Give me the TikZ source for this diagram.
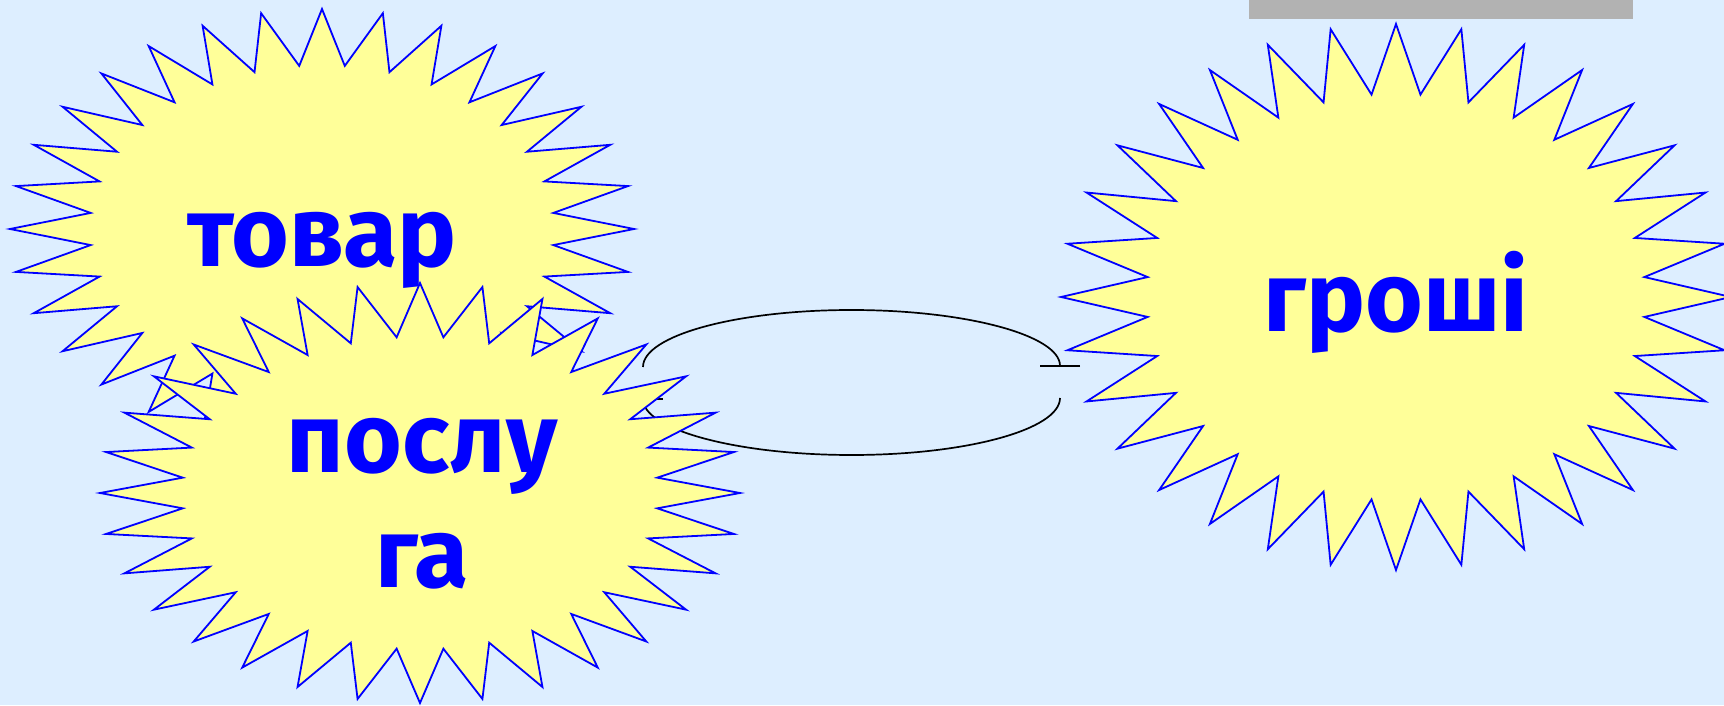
\documentclass[tikz,border=0pt]{standalone}
\usepackage{fontspec}
\setmainfont{Fira Sans}
\usetikzlibrary{
    arrows.meta,  % For the bar tips
    positioning
}
\definecolor{skyback}{HTML}{DDEEFF}
\definecolor{burstyellow}{HTML}{FFFF99}
\definecolor{bargray}{HTML}{B2B2B2}

% 32-point burst: centre x, centre y, x radius, y radius
\newcommand{\burststar}[4]{%
    \draw[burst] plot[samples at={0,...,63}, variable=\k]
        ({#1+(1-0.255*mod(\k,2))*#3*cos(\k*5.625)},
         {#2+(1-0.255*mod(\k,2))*#4*sin(\k*5.625)}) -- cycle;}

\begin{document}
\begin{tikzpicture}[
    x=1pt, y=1pt,
    burst/.style={draw=blue, fill=burstyellow, line width=1.8pt, line join=miter},
    word/.style={text=blue, font=\fontsize{99}{115}\selectfont\bfseries, inner sep=0pt},
    swap/.style={black, line width=1.7pt}
]

    % Background
    \fill[skyback] (0,0) rectangle (1724,705);
    \useasboundingbox (0,0) rectangle (1724,705);
    \fill[bargray] (1249,686) rectangle (1633,705);

    % Exchange arcs (the bursts lie over them)
    \coordinate (swapL) at (643,338);
    \coordinate (swapR) at (1060,307);
    \draw[swap, -{Bar[width=40pt]}] (swapL) arc[start angle=180, end angle=0, x radius=208.5, y radius=57];
    \draw[swap, -{Bar[width=40pt]}] (swapR) arc[start angle=0, end angle=-180, x radius=208.5, y radius=57];

    % Bursts
    \burststar{322}{476}{312}{220}
    \burststar{420}{212}{320}{210}
    \burststar{1396}{408}{335}{273}

    % Words
    \node[word, anchor=base] (tovar) at (322,438) {товар};
    \node[word, align=center] (posluga) at (422,201) {послу\\га};
    \node[word, anchor=base] (groshi) at (1396,373) {гроші};

\end{tikzpicture}
\end{document}
